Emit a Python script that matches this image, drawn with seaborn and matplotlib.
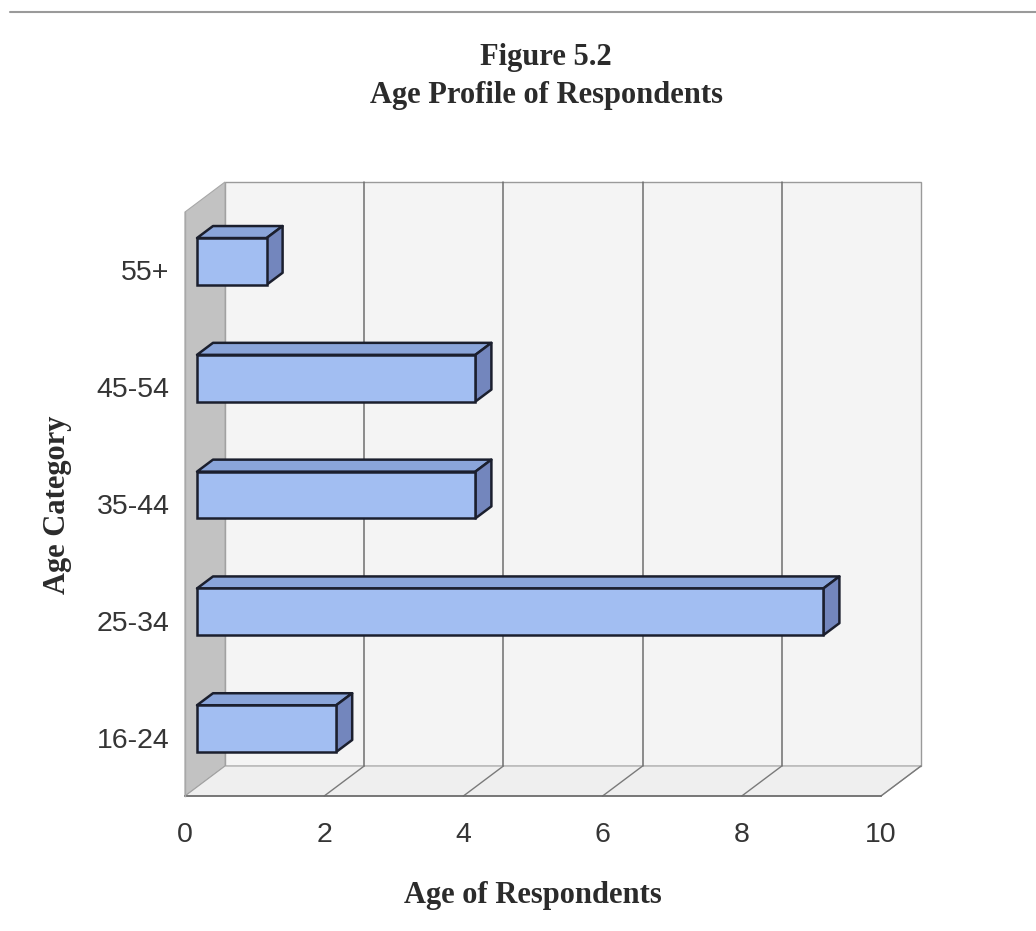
import matplotlib
matplotlib.use("Agg")
import matplotlib.pyplot as plt
from matplotlib.patches import Polygon
from matplotlib.lines import Line2D
import seaborn as sns
import numpy as np

# ---- data ----
categories = ["55+", "45-54", "35-44", "25-34", "16-24"]
counts = [1, 4, 4, 9, 2]
x_ticks = [0, 2, 4, 6, 8, 10]
title_lines = ["Figure 5.2", "Age Profile of Respondents"]
x_label = "Age of Respondents"
y_label = "Age Category"

sns.set_style("white")
plt.rcParams["font.family"] = ["Liberation Sans", "DejaVu Sans"]

W, H = 1036, 931
fig = plt.figure(figsize=(W / 100, H / 100), dpi=100)
fig.patch.set_facecolor("white")

L, R, T, B = 185, 881, 212, 796
ax = fig.add_axes([L / W, 1 - B / H, (R - L) / W, (B - T) / H])
ax.patch.set_visible(False)

front_col = "#a2bef2"
top_col = "#8aa5da"
side_col = "#7386bd"
edge_col = "#1b1f2e"

sns.barplot(x=counts, y=categories, order=categories, orient="h",
            color=front_col, saturation=1, width=0.4,
            edgecolor=edge_col, linewidth=1.8, ax=ax, zorder=5)
bars = list(ax.patches)

n = len(categories)
xmax = x_ticks[-1]
ax.set_xlim(0, xmax)
ax.set_ylim(n - 0.5, -0.5)

# depth offsets (in data units)
px_x = (R - L) / xmax
px_y = (B - T) / n
ddx = 40 / px_x
ddy = -30 / px_y
y_top, y_bot = -0.5, n - 0.5

# back wall
ax.add_patch(Polygon([(ddx, y_top + ddy), (xmax + ddx, y_top + ddy),
                      (xmax + ddx, y_bot + ddy), (ddx, y_bot + ddy)],
                     closed=True, facecolor="#f4f4f4", edgecolor="#9a9a9a",
                     lw=1.0, zorder=0.5, clip_on=False))
# side wall
ax.add_patch(Polygon([(0, y_bot), (0, y_top), (ddx, y_top + ddy), (ddx, y_bot + ddy)],
                     closed=True, facecolor="#c2c2c2", edgecolor="#a8a8a8",
                     lw=0.8, zorder=0.6, clip_on=False))
# floor
ax.add_patch(Polygon([(0, y_bot), (xmax, y_bot), (xmax + ddx, y_bot + ddy), (ddx, y_bot + ddy)],
                     closed=True, facecolor="#efefef", edgecolor="#a0a0a0",
                     lw=0.8, zorder=0.6, clip_on=False))
# gridlines on back wall and floor
for xt in x_ticks[1:]:
    if xt < xmax:
        ax.add_line(Line2D([xt + ddx, xt + ddx], [y_bot + ddy, y_top + ddy],
                           color="#6e6e6e", lw=1.1, zorder=1, clip_on=False))
    ax.add_line(Line2D([xt, xt + ddx], [y_bot, y_bot + ddy],
                       color="#7a7a7a", lw=1.0, zorder=1, clip_on=False))

# 3D bars
f1, f2 = 0.3, 0.7
a1, b1 = f1 * ddx, f1 * ddy
a2, b2 = f2 * ddx, f2 * ddy
for p in bars:
    x0, y0, w, h = p.get_x(), p.get_y(), p.get_width(), p.get_height()
    p.set_x(x0 + a1)
    p.set_y(y0 + b1)
    p.set_clip_on(False)
    TL = (x0 + a1, y0 + b1)
    TR = (x0 + w + a1, y0 + b1)
    BR = (x0 + w + a1, y0 + h + b1)
    TL2 = (x0 + a2, y0 + b2)
    TR2 = (x0 + w + a2, y0 + b2)
    BR2 = (x0 + w + a2, y0 + h + b2)
    ax.add_patch(Polygon([TL, TR, TR2, TL2], closed=True, facecolor=top_col,
                         edgecolor=edge_col, lw=1.8, zorder=4, clip_on=False,
                         joinstyle="round"))
    ax.add_patch(Polygon([TR, BR, BR2, TR2], closed=True, facecolor=side_col,
                         edgecolor=edge_col, lw=1.8, zorder=4, clip_on=False,
                         joinstyle="round"))

# axes / ticks
for s in ["top", "right"]:
    ax.spines[s].set_visible(False)
ax.spines["bottom"].set_color("#6a6a6a")
ax.spines["bottom"].set_linewidth(1.2)
ax.spines["left"].set_color("#a8a8a8")
ax.spines["left"].set_linewidth(1.0)
ax.spines["bottom"].set_zorder(2)

ax.set_xticks(x_ticks)
ax.set_xticklabels([str(v) for v in x_ticks])
ax.tick_params(axis="x", which="major", length=7, width=1, color="#8a8a8a",
               direction="out", pad=12, labelsize=20.5, labelcolor="#353535")

ax.set_yticks(np.arange(-0.5, n, 1.0))
ax.set_yticklabels([""] * (n + 1))
ax.set_yticks(np.arange(n), minor=True)
ax.set_yticklabels(categories, minor=True)
ax.tick_params(axis="y", which="major", length=7, width=1, color="#8a8a8a",
               direction="out")
ax.tick_params(axis="y", which="minor", length=0, pad=11, labelsize=20.5,
               labelcolor="#353535")
ax.set_xlabel("")
ax.set_ylabel("")

serif = ["Liberation Serif", "DejaVu Serif"]
tcol = "#2b2b2b"
fig.text(546 / W, 1 - 65 / H, title_lines[0], ha="center", va="baseline",
         fontsize=22, fontweight="bold", family=serif, color=tcol)
fig.text(546 / W, 1 - 103 / H, title_lines[1], ha="center", va="baseline",
         fontsize=22, fontweight="bold", family=serif, color=tcol)
fig.text(533 / W, 1 - 903 / H, x_label, ha="center", va="baseline",
         fontsize=22, fontweight="bold", family=serif, color=tcol)
fig.text(57 / W, 1 - 505 / H, y_label, ha="center", va="center", rotation=90,
         fontsize=22, fontweight="bold", family=serif, color=tcol)

# page border line at top
fig.add_artist(Line2D([10 / W, 1.0], [1 - 12 / H, 1 - 12 / H],
                      transform=fig.transFigure, color="#9a9a9a", lw=1.5))

fig.savefig("out.png", dpi=100, facecolor="white")
